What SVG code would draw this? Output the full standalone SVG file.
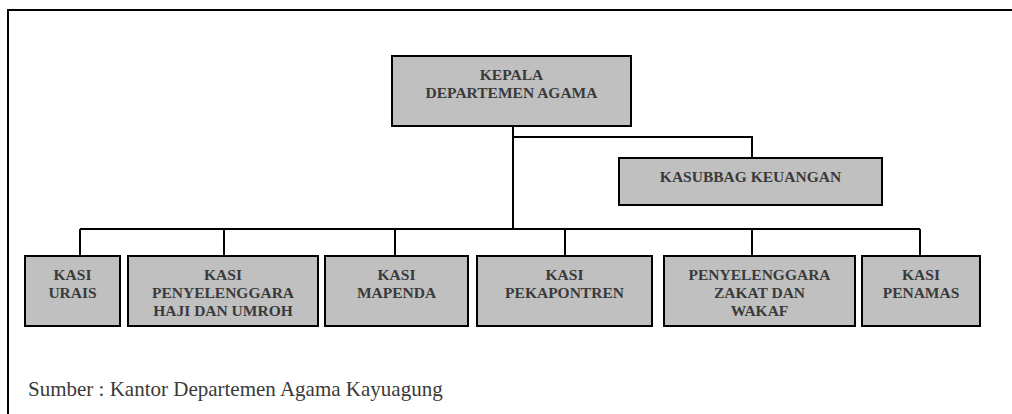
<svg xmlns="http://www.w3.org/2000/svg" width="1012" height="414" viewBox="0 0 1012 414">
<style>
.box{fill:#c0c0c0;stroke:#000;stroke-width:2}
.t{font-family:"Liberation Serif","Times New Roman",serif;font-weight:bold;font-size:15.5px;fill:#3a3a3a;text-anchor:middle}
.c{stroke:#000;stroke-width:2;fill:none}
.src{font-family:"Liberation Serif","Times New Roman",serif;font-size:21px;fill:#3a3a3a}
</style>
<rect x="0" y="0" width="1012" height="414" fill="#fff"/>
<path d="M8 414 V10 H1012" fill="none" stroke="#000" stroke-width="2"/>
<g id="connectors">
<path class="c" d="M513 127 V229"/>
<path class="c" d="M513 137 H752 V157"/>
<path class="c" d="M80 229 H920"/>
<path class="c" d="M80 229 V255"/>
<path class="c" d="M224 229 V255"/>
<path class="c" d="M395 229 V255"/>
<path class="c" d="M565 229 V255"/>
<path class="c" d="M752 229 V255"/>
<path class="c" d="M920 229 V255"/>
</g>
<g id="kepala">
<rect class="box" x="392" y="56" width="239" height="70"/>
<text class="t" x="511.5" y="80">KEPALA</text>
<text class="t" x="511.5" y="98">DEPARTEMEN AGAMA</text>
</g>
<g id="kasubbag">
<rect class="box" x="619" y="158" width="263" height="47"/>
<text class="t" x="750.5" y="182">KASUBBAG KEUANGAN</text>
</g>
<g id="urais">
<rect class="box" x="25" y="256" width="95" height="70"/>
<text class="t" x="72.5" y="280">KASI</text>
<text class="t" x="72.5" y="298">URAIS</text>
</g>
<g id="haji">
<rect class="box" x="128" y="256" width="190" height="70"/>
<text class="t" x="223" y="280">KASI</text>
<text class="t" x="223" y="298">PENYELENGGARA</text>
<text class="t" x="223" y="315.5">HAJI DAN UMROH</text>
</g>
<g id="mapenda">
<rect class="box" x="325" y="256" width="143" height="70"/>
<text class="t" x="396.5" y="280">KASI</text>
<text class="t" x="396.5" y="298">MAPENDA</text>
</g>
<g id="pekapontren">
<rect class="box" x="477" y="256" width="175" height="70"/>
<text class="t" x="564.5" y="280">KASI</text>
<text class="t" x="564.5" y="298">PEKAPONTREN</text>
</g>
<g id="zakat">
<rect class="box" x="664" y="256" width="191" height="70"/>
<text class="t" x="759.5" y="280">PENYELENGGARA</text>
<text class="t" x="759.5" y="298">ZAKAT DAN</text>
<text class="t" x="759.5" y="315.5">WAKAF</text>
</g>
<g id="penamas">
<rect class="box" x="862" y="256" width="118" height="70"/>
<text class="t" x="921" y="280">KASI</text>
<text class="t" x="921" y="298">PENAMAS</text>
</g>
<text class="src" x="28" y="396">Sumber : Kantor Departemen Agama Kayuagung</text>
</svg>
